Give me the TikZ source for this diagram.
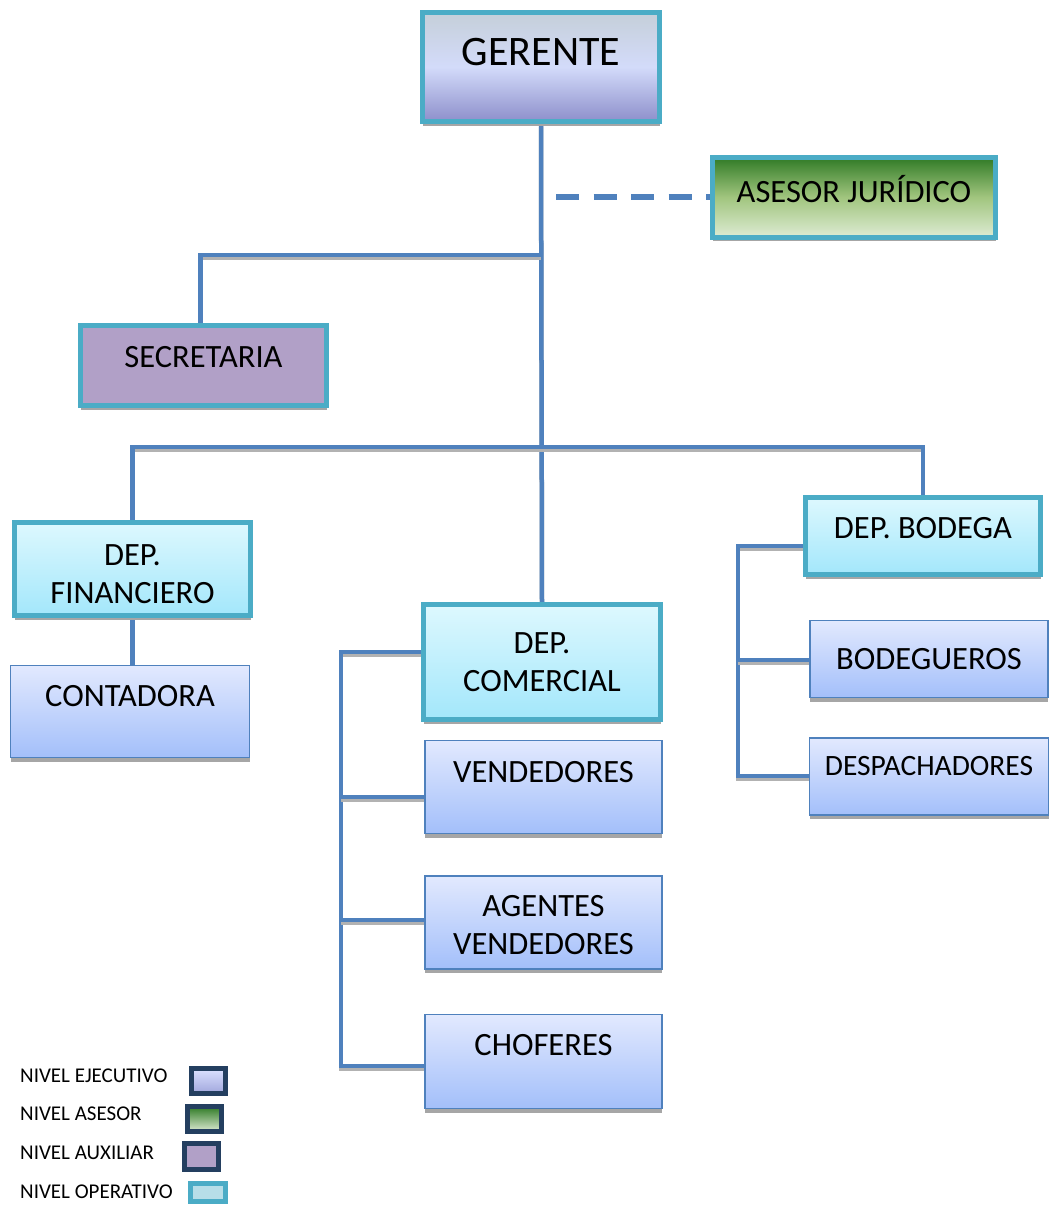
\documentclass[tikz,border=0pt]{standalone}
\usepackage{fontspec}
\setmainfont{Carlito}
\usepackage{tikz}
\usetikzlibrary{positioning, shadows, backgrounds}

\definecolor{rimcyan}{HTML}{4BACC6}
\definecolor{linkblue}{HTML}{4F81BD}
\definecolor{keynavy}{HTML}{243F60}
\definecolor{auxpurple}{HTML}{B1A0C7}
\definecolor{opfill}{HTML}{B7DEE8}

\tikzset{
    box/.style={inner sep=0pt, drop shadow={shadow xshift=0pt, shadow yshift=-4pt, fill=black!35, opacity=1}},
    unit/.style={box, draw=rimcyan, line width=5pt},
    boss/.style={unit, top color={rgb,255:red,197;green,207;blue,217}, bottom color={rgb,255:red,141;green,143;blue,203}, middle color={rgb,255:red,211;green,219;blue,250}},
    advisor/.style={unit, top color={rgb,255:red,47;green,122;blue,37}, bottom color={rgb,255:red,221;green,235;blue,211}, middle color={rgb,255:red,161;green,197;blue,126}},
    aid/.style={unit, fill=auxpurple},
    dept/.style={unit, top color={rgb,255:red,221;green,248;blue,254}, bottom color={rgb,255:red,163;green,231;blue,251}},
    staff/.style={box, draw=linkblue, line width=1.5pt, top color={rgb,255:red,226;green,233;blue,254}, bottom color={rgb,255:red,163;green,191;blue,250}},
    link/.style={draw=linkblue, line width=4.5pt, preaction={draw=black!30, line width=4.5pt, transform canvas={yshift=-2.5pt}}},
    advice/.style={draw=linkblue, line width=6pt, dash pattern=on 23pt off 14.5pt},
    key/.style={anchor=west, inner sep=0pt, font=\fontsize{21}{25}\selectfont},
    swatch/.style={draw=keynavy, line width=5pt, inner sep=0pt},
    every label/.style={align=center, font=\fontsize{32.5}{38}\selectfont}
}

\begin{document}
\begin{tikzpicture}[x=1pt, y=-1pt]
    \useasboundingbox (0,0) rectangle (1050,1205);

    \node (gerente) [boss, minimum width=237pt, minimum height=109pt, label={[yshift=15pt, font=\fontsize{42}{50}\selectfont]center:GERENTE}] at (541,67) {};
    \node (asesor) [advisor, minimum width=283pt, minimum height=80pt, label={[yshift=8pt]center:ASESOR JURÍDICO}] at (854,197) {};
    \node (secretaria) [aid, minimum width=246pt, minimum height=80pt, label={[yshift=8pt]center:SECRETARIA}] at (203.5,365.5) {};

    \node (depfin) [dept, minimum width=236pt, minimum height=93pt, label={[yshift=-5pt]center:DEP.\\FINANCIERO}] at (132.5,569) {};
    \node (contadora) [staff, minimum width=239pt, minimum height=92pt, label={[yshift=15pt]center:CONTADORA}] at (130,711.5) {};

    \node (depcom) [dept, minimum width=237pt, minimum height=115pt, label=center:DEP.\\COMERCIAL] at (542,662) {};
    \node (vendedores) [staff, minimum width=237pt, minimum height=93pt, label={[yshift=15pt]center:VENDEDORES}] at (543.5,787) {};
    \node (agentes) [staff, minimum width=237pt, minimum height=93pt, below=41pt of vendedores, label={[yshift=-3pt]center:AGENTES\\VENDEDORES}] {};
    \node (choferes) [staff, minimum width=237pt, minimum height=94pt, below=44pt of agentes, label={[yshift=16pt]center:CHOFERES}] {};

    \node (depbod) [dept, minimum width=235pt, minimum height=77pt, label={[yshift=8pt]center:DEP. BODEGA}] at (923,536) {};
    \node (bodegueros) [staff, minimum width=238pt, minimum height=77pt, label=center:BODEGUEROS] at (929,659) {};
    \node (despachadores) [staff, minimum width=239pt, minimum height=77pt, below=39pt of bodegueros, label={[yshift=10pt, font=\fontsize{29.5}{35}\selectfont]center:DESPACHADORES}] {};

    % connectors
    \coordinate (jsec) at (541,255);
    \coordinate (jbus) at (541,447);
    \coordinate (dash0) at (556,197);
    \coordinate (cbus) at (341,652);
    \coordinate (tapven) at (341,797);
    \coordinate (tapage) at (341,920);
    \coordinate (tapcho) at (341,1066);
    \coordinate (bbus) at (738,546);
    \coordinate (tapbod) at (738,660);
    \coordinate (tapdes) at (738,776);
    \begin{scope}[on background layer]
        \draw [link] (gerente.south) -- (depcom.north);
        \draw [link] (jsec) -| ([xshift=-3pt]secretaria.north);
        \draw [link] (depfin.north) |- (jbus) -| (depbod.north);
        \draw [link] (depfin.south) -- (depfin.south |- contadora.north);
        \draw [link] (depcom.west |- cbus) -- (cbus) |- (tapcho -| choferes.west);
        \draw [link] (tapven) -- (tapven -| vendedores.west);
        \draw [link] (tapage) -- (tapage -| agentes.west);
        \draw [link] (depbod.west |- bbus) -- (bbus) |- (tapdes -| despachadores.west);
        \draw [link] (tapbod) -- (tapbod -| bodegueros.west);
        \draw [advice] (dash0) -- (asesor.west);
    \end{scope}

    % legend
    \node (keyejec) [key] at (20,1076) {NIVEL EJECUTIVO};
    \node (keyases) [key] at (20,1114) {NIVEL ASESOR};
    \node (keyaux) [key] at (20,1153) {NIVEL AUXILIAR};
    \node (keyop) [key] at (20,1192) {NIVEL OPERATIVO};
    \node (swejec) [swatch, top color={rgb,255:red,220;green,226;blue,255}, bottom color={rgb,255:red,160;green,166;blue,220}, minimum width=34pt, minimum height=25pt] at (208.5,1081) {};
    \node (swases) [swatch, top color={rgb,255:red,47;green,122;blue,37}, bottom color={rgb,255:red,221;green,235;blue,211}, minimum width=34pt, minimum height=25pt] at (204.5,1119) {};
    \node (swaux) [swatch, fill=auxpurple, minimum width=34pt, minimum height=26pt] at (201.5,1156.5) {};
    \node (swop) [swatch, draw=rimcyan, fill=opfill, minimum width=35pt, minimum height=18pt] at (208,1192.5) {};
\end{tikzpicture}
\end{document}
